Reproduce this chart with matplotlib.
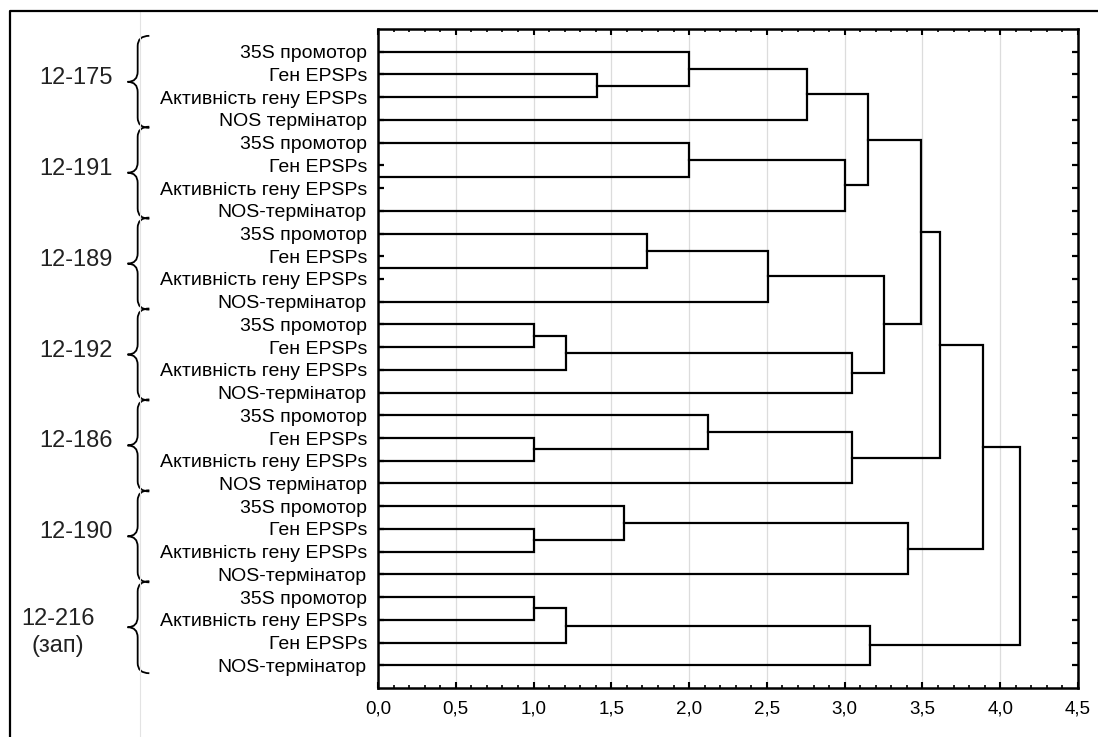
import matplotlib
matplotlib.use("Agg")
import matplotlib.pyplot as plt
from matplotlib.path import Path
from matplotlib.patches import PathPatch
from matplotlib.lines import Line2D
from matplotlib.ticker import MultipleLocator, FuncFormatter

plt.rcParams['font.family'] = ['Liberation Sans', 'DejaVu Sans']

# ---------------- DATA ----------------
leaf_labels = [
    "35S промотор", "Ген EPSPs", "Активність гену EPSPs", "NOS термінатор",
    "35S промотор", "Ген EPSPs", "Активність гену EPSPs", "NOS-термінатор",
    "35S промотор", "Ген EPSPs", "Активність гену EPSPs", "NOS-термінатор",
    "35S промотор", "Ген EPSPs", "Активність гену EPSPs", "NOS-термінатор",
    "35S промотор", "Ген EPSPs", "Активність гену EPSPs", "NOS термінатор",
    "35S промотор", "Ген EPSPs", "Активність гену EPSPs", "NOS-термінатор",
    "35S промотор", "Активність гену EPSPs", "Ген EPSPs", "NOS-термінатор",
]

group_names = ["12-175", "12-191", "12-189", "12-192", "12-186", "12-190", "12-216\n(зап)"]

# linkage: (child a, child b, distance); leaves 0..27, new clusters 28..
merges = [
    (1, 2, 1.41), (0, 28, 2.00), (29, 3, 2.76),            # 12-175 -> 30
    (5, 6, 0.00), (4, 31, 2.00), (32, 7, 3.00),            # 12-191 -> 33
    (30, 33, 3.15),                                        # 34
    (9, 10, 0.00), (8, 35, 1.73), (36, 11, 2.51),          # 12-189 -> 37
    (12, 13, 1.00), (38, 14, 1.21), (39, 15, 3.05),        # 12-192 -> 40
    (37, 40, 3.25),                                        # 41
    (34, 41, 3.49),                                        # 42
    (17, 18, 1.00), (16, 43, 2.12), (44, 19, 3.05),        # 12-186 -> 45
    (42, 45, 3.61),                                        # 46
    (21, 22, 1.00), (20, 47, 1.58), (48, 23, 3.41),        # 12-190 -> 49
    (46, 49, 3.89),                                        # 50
    (24, 25, 1.00), (51, 26, 1.21), (52, 27, 3.16),        # 12-216 -> 53
    (50, 53, 4.13),                                        # 54
]

# ---------------- FIGURE ----------------
W, H = 1098, 737
fig = plt.figure(figsize=(W / 100, H / 100), dpi=100)
ax = fig.add_axes([378 / W, 1 - 688 / H, 700 / W, 659 / H])

n = len(leaf_labels)
ypos = {i: i + 1 for i in range(n)}
xpos = {i: 0.0 for i in range(n)}

for k, (a, b, h) in enumerate(merges):
    ax.plot([xpos[a], h, h, xpos[b]], [ypos[a], ypos[a], ypos[b], ypos[b]],
            color="black", lw=1.6, solid_joinstyle="miter", zorder=2)
    node = n + k
    ypos[node] = (ypos[a] + ypos[b]) / 2
    xpos[node] = h

ax.set_xlim(0, 4.5)
ax.set_ylim(n + 1, 0)

ax.xaxis.set_major_locator(MultipleLocator(0.5))
ax.xaxis.set_minor_locator(MultipleLocator(0.1))
ax.xaxis.set_major_formatter(FuncFormatter(lambda v, p: f"{v:.1f}".replace(".", ",")))
ax.set_yticks(range(1, n + 1))
ax.set_yticklabels(leaf_labels, fontsize=14)

ax.tick_params(axis="x", which="major", direction="in", length=4, width=1.5,
               top=True, labelsize=13.5, pad=9)
ax.tick_params(axis="x", which="minor", direction="in", length=2.5, width=1.2, top=True)
ax.tick_params(axis="y", direction="in", length=4.5, width=1.6, right=True, pad=8)

ax.grid(True, axis="x", which="major", color="#dcdcdc", lw=0.9, zorder=0)
ax.set_axisbelow(True)
for s in ax.spines.values():
    s.set_linewidth(1.8)

# ---------------- GROUP BRACES ----------------
def brace(top, bot, xr, xm, xl, r):
    mid = (top + bot) / 2
    verts = [(xr, top), (xm, top), (xm, top + r),
             (xm, mid - r), (xm, mid), (xl, mid),
             (xm, mid), (xm, mid + r),
             (xm, bot - r), (xm, bot), (xr, bot)]
    codes = [Path.MOVETO, Path.CURVE3, Path.CURVE3,
             Path.LINETO, Path.CURVE3, Path.CURVE3,
             Path.CURVE3, Path.CURVE3,
             Path.LINETO, Path.CURVE3, Path.CURVE3]
    return PathPatch(Path(verts, codes), fill=False, lw=1.3, color="black",
                     clip_on=False)

for g, name in enumerate(group_names):
    top = 4 * g + 0.3
    bot = 4 * g + 4.35
    ax.add_patch(brace(top, bot, -1.47, -1.545, -1.61, 0.45))
    if "\n" in name:
        ax.text(-2.06, 4 * g + 2.55, name, ha="center", va="center", fontsize=17,
                linespacing=1.3, color="#222222", clip_on=False)
    else:
        ax.text(-1.94, 4 * g + 2.15, name, ha="center", va="center", fontsize=17,
                color="#222222", clip_on=False)

# ---------------- OUTER FRAME ----------------
fig.add_artist(Line2D([140 / W, 140 / W], [0, 1 - 12 / H], color="#e3e3e3", lw=0.8))
fig.add_artist(Line2D([10 / W, 10 / W, 1.0], [0, 1 - 11 / H, 1 - 11 / H],
                      color="black", lw=1.6))

fig.savefig("out.png", dpi=100)
